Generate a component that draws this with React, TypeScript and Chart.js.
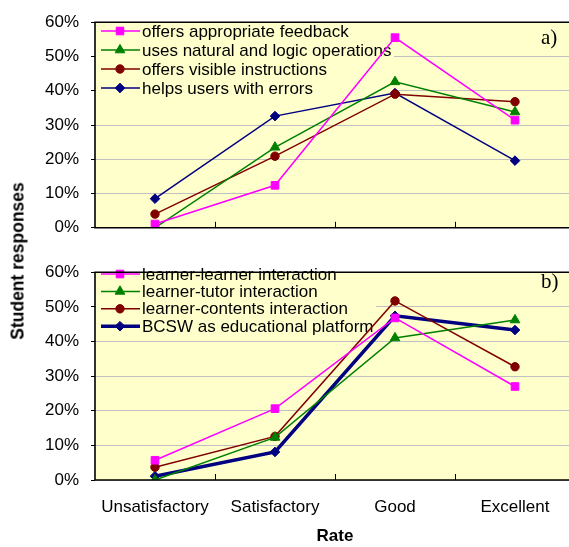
import React, { useEffect, useRef } from 'react';
import { Chart, registerables } from 'chart.js';

Chart.register(...registerables);

// ---------- data ----------
const categories = ['Unsatisfactory', 'Satisfactory', 'Good', 'Excellent'];
const yTickValues = [0, 10, 20, 30, 40, 50, 60];

const panelASeriesLabels = [
  'offers appropriate feedback',
  'uses natural and logic operations',
  'offers visible instructions',
  'helps users with errors',
];
const offersFeedback = [1.1, 12.4, 55.5, 31.4];
const usesNaturalLogic = [0, 23.5, 42.6, 33.8];
const offersVisibleInstructions = [4.0, 20.9, 39.0, 36.8];
const helpsUsersWithErrors = [8.5, 32.6, 39.3, 19.6];

const panelBSeriesLabels = [
  'learner-learner interaction',
  'learner-tutor interaction',
  'learner-contents interaction',
  'BCSW as educational platform',
];
const learnerLearner = [5.7, 20.6, 46.8, 27.0];
const learnerTutor = [0, 12.3, 41.0, 46.2];
const learnerContents = [3.7, 12.6, 51.7, 32.7];
const bcswPlatform = [1.1, 8.1, 47.4, 43.3];

const xAxisTitle = 'Rate';
const yAxisTitle = 'Student responses';

// ---------- styles ----------
const COLORS = ['#FF00FF', '#008000', '#800000', '#000080'];
const POINT_STYLES = ['rect', 'triangle', 'circle', 'rectRot'];
const POINT_RADII = [5.4, 5.6, 4.2, 4.8];
const PLOT_BG = '#FFFFCC';
const GRID = '#C0C0C0';
const SANS = '"Liberation Sans", Arial, sans-serif';
const SERIF = '"Liberation Serif", "Times New Roman", serif';

function drawMarker(ctx: CanvasRenderingContext2D, style: string, x: number, y: number, r: number, color: string) {
  ctx.save();
  ctx.fillStyle = color;
  ctx.strokeStyle = color;
  ctx.lineWidth = 1;
  ctx.beginPath();
  if (style === 'rect') {
    const s = r * Math.SQRT1_2;
    ctx.rect(x - s, y - s, 2 * s, 2 * s);
  } else if (style === 'triangle') {
    for (let k = 0; k < 3; k++) {
      const a = (k * 2 * Math.PI) / 3;
      const px = x + Math.sin(a) * r;
      const py = y - Math.cos(a) * r;
      if (k === 0) ctx.moveTo(px, py);
      else ctx.lineTo(px, py);
    }
  } else if (style === 'circle') {
    ctx.arc(x, y, r, 0, Math.PI * 2);
  } else {
    ctx.moveTo(x, y - r);
    ctx.lineTo(x + r, y);
    ctx.lineTo(x, y + r);
    ctx.lineTo(x - r, y);
  }
  ctx.closePath();
  ctx.fill();
  ctx.stroke();
  ctx.restore();
}

interface PanelCfg {
  letter: string;
  letterY: number;
  legendRowY0: number;
  legendRowGap: number;
  legendBoxRight: number;
  legendBoxBottom: number;
}

function panelPlugin(cfg: PanelCfg) {
  return {
    id: 'panelDecor',
    beforeDraw(chart: any) {
      const { ctx, chartArea: a } = chart;
      ctx.save();
      ctx.fillStyle = PLOT_BG;
      ctx.fillRect(a.left, a.top, a.right - a.left, a.bottom - a.top);
      ctx.restore();
    },
    beforeDatasetsDraw(chart: any) {
      const { ctx, chartArea: a } = chart;
      ctx.save();
      ctx.fillStyle = PLOT_BG;
      ctx.fillRect(a.left + 1, a.top + 1, cfg.legendBoxRight - a.left, cfg.legendBoxBottom - a.top);
      chart.data.datasets.forEach((ds: any, i: number) => {
        const y = cfg.legendRowY0 + i * cfg.legendRowGap;
        ctx.strokeStyle = ds.borderColor;
        ctx.lineWidth = ds.borderWidth;
        ctx.beginPath();
        ctx.moveTo(a.left + 6, y);
        ctx.lineTo(a.left + 45, y);
        ctx.stroke();
        drawMarker(ctx, ds.pointStyle, a.left + 25, y, ds.pointRadius, ds.borderColor);
        ctx.fillStyle = '#000';
        ctx.font = `17px ${SANS}`;
        ctx.textAlign = 'left';
        ctx.textBaseline = 'middle';
        ctx.fillText(ds.label, a.left + 47, y + 1);
      });
      ctx.restore();
    },
    afterDraw(chart: any) {
      const { ctx, chartArea: a } = chart;
      ctx.save();
      ctx.strokeStyle = '#000';
      ctx.lineWidth = 1.6;
      ctx.beginPath();
      ctx.moveTo(a.right + 2, a.top);
      ctx.lineTo(a.left, a.top);
      ctx.lineTo(a.left, a.bottom);
      ctx.lineTo(a.right + 2, a.bottom);
      ctx.stroke();
      // inward category separator ticks
      const n = categories.length;
      const w = (a.right - a.left) / n;
      ctx.lineWidth = 1;
      for (let i = 1; i < n; i++) {
        const x = Math.round(a.left + i * w) + 0.5;
        ctx.beginPath();
        ctx.moveTo(x, a.bottom);
        ctx.lineTo(x, a.bottom - 6);
        ctx.stroke();
      }
      ctx.fillStyle = '#000';
      ctx.font = `21px ${SERIF}`;
      ctx.textAlign = 'left';
      ctx.textBaseline = 'alphabetic';
      ctx.fillText(cfg.letter, 541, cfg.letterY);
      ctx.restore();
    },
  };
}

function makeDatasets(labels: string[], series: number[][], widths: number[]) {
  return series.map((values, i) => ({
    label: labels[i],
    data: values,
    borderColor: COLORS[i],
    backgroundColor: COLORS[i],
    pointBackgroundColor: COLORS[i],
    pointBorderColor: COLORS[i],
    borderWidth: widths[i],
    pointStyle: POINT_STYLES[i],
    pointRadius: POINT_RADII[i],
    pointBorderWidth: 1,
    tension: 0,
    fill: false,
  }));
}

function buildConfig(datasets: any[], bottom: boolean, topPad: number, xHeight: number, panel: PanelCfg) {
  return {
    type: 'line' as const,
    data: { labels: categories, datasets },
    options: {
      responsive: false,
      animation: false as const,
      layout: { padding: { top: topPad, right: 15, left: 0, bottom: 0 } },
      plugins: { legend: { display: false }, tooltip: { enabled: false } },
      scales: {
        x: {
          type: 'category' as const,
          offset: true,
          grid: { display: false, drawTicks: false, drawOnChartArea: false },
          border: { display: false },
          ticks: {
            display: bottom,
            color: '#000',
            font: { family: SANS, size: 17 },
            padding: 17,
            maxRotation: 0,
            autoSkip: false,
          },
          title: {
            display: bottom,
            text: xAxisTitle,
            color: '#000',
            font: { family: SANS, size: 17, weight: 'bold' as const, lineHeight: 1.2 },
            padding: { top: 0, bottom: 0 },
          },
          afterFit: (s: any) => {
            s.height = xHeight;
          },
        },
        y: {
          min: 0,
          max: 60,
          afterBuildTicks: (s: any) => {
            s.ticks = yTickValues.map((v) => ({ value: v }));
          },
          ticks: {
            color: '#000',
            font: { family: SANS, size: 17 },
            padding: 12,
            callback: (v: any) => `${v}%`,
          },
          grid: { color: GRID, lineWidth: 1, tickColor: '#000', tickLength: 4, drawTicks: true },
          border: { display: false },
          afterFit: (s: any) => {
            s.width = 95;
          },
        },
      },
    },
    plugins: [panelPlugin(panel)],
  };
}

export default function App() {
  const topRef = useRef<HTMLCanvasElement>(null);
  const bottomRef = useRef<HTMLCanvasElement>(null);

  useEffect(() => {
    const topDatasets = makeDatasets(
      panelASeriesLabels,
      [offersFeedback, usesNaturalLogic, offersVisibleInstructions, helpsUsersWithErrors],
      [1.5, 1.5, 1.5, 1.5]
    );
    const bottomDatasets = makeDatasets(
      panelBSeriesLabels,
      [learnerLearner, learnerTutor, learnerContents, bcswPlatform],
      [1.5, 1.5, 1.5, 3.5]
    );
    const c1 = new Chart(
      topRef.current as HTMLCanvasElement,
      buildConfig(topDatasets, false, 18, 20, {
        letter: 'a)',
        letterY: 44,
        legendRowY0: 31,
        legendRowGap: 19,
        legendBoxRight: 393,
        legendBoxBottom: 96,
      }) as any
    );
    const c2 = new Chart(
      bottomRef.current as HTMLCanvasElement,
      buildConfig(bottomDatasets, true, 12, 67, {
        letter: 'b)',
        letterY: 38,
        legendRowY0: 24,
        legendRowGap: 17.4,
        legendBoxRight: 375,
        legendBoxBottom: 88,
      }) as any
    );
    return () => {
      c1.destroy();
      c2.destroy();
    };
  }, []);

  return (
    <div
      style={{
        position: 'fixed',
        left: 0,
        top: 0,
        width: 569,
        height: 547,
        overflow: 'hidden',
        background: '#fff',
      }}
    >
      <canvas ref={topRef} width={590} height={250} style={{ position: 'absolute', left: 0, top: 0, width: 590, height: 250 }} />
      <canvas ref={bottomRef} width={590} height={297} style={{ position: 'absolute', left: 0, top: 250, width: 590, height: 297 }} />
      <div
        style={{
          position: 'absolute',
          left: 18,
          top: 261,
          transform: 'translate(-50%, -50%) rotate(-90deg)',
          whiteSpace: 'nowrap',
          font: `bold 17.5px ${SANS}`,
          color: '#000',
        }}
      >
        {yAxisTitle}
      </div>
    </div>
  );
}
